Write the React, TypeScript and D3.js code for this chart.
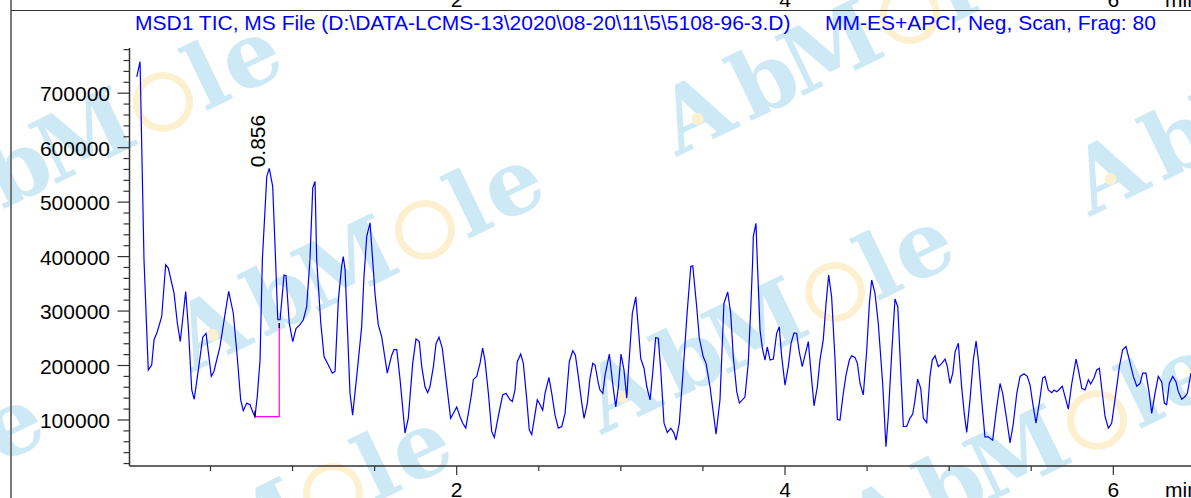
import React from "react";
import * as d3 from "d3";

// ---------------- data ----------------
const TITLE_LEFT = "MSD1 TIC, MS File (D:\\DATA-LCMS-13\\2020\\08-20\\11\\5\\5108-96-3.D)";
const TITLE_RIGHT = "MM-ES+APCI, Neg, Scan, Frag: 80";
const X_UNIT = "min";
const X_TICK_LABELS = [2, 4, 6];
const X_MINOR_STEP = 0.5;
const Y_TICK_LABELS = [100000, 200000, 300000, 400000, 500000, 600000, 700000];
const Y_MINOR_STEP = 20000;
const TOP_PANEL_TICKS = [2, 4, 6];

// retention time (min), TIC intensity
const TIC: [number, number][] = [
  [0.051,730000],[0.071,758000],[0.095,394000],[0.121,192000],[0.142,201000],[0.156,247000],[0.176,262000],[0.203,290000],[0.227,385000],[0.243,379000],
  [0.278,333000],[0.298,278000],[0.316,244000],[0.349,336000],[0.365,271000],[0.386,155000],[0.401,138000],[0.426,192000],[0.453,252000],[0.473,259000],
  [0.505,180000],[0.521,189000],[0.558,235000],[0.588,293000],[0.611,336000],[0.639,296000],[0.663,216000],[0.684,137000],[0.700,117000],[0.721,131000],
  [0.741,128000],[0.757,115000],[0.771,106000],[0.785,143000],[0.802,210000],[0.816,394000],[0.843,547000],[0.858,562000],[0.879,529000],[0.895,406000],
  [0.910,284000],[0.924,284000],[0.948,366000],[0.960,365000],[0.980,278000],[1.001,244000],[1.021,268000],[1.045,275000],[1.066,284000],[1.086,308000],
  [1.106,394000],[1.123,526000],[1.137,538000],[1.147,394000],[1.172,278000],[1.192,216000],[1.218,201000],[1.242,186000],[1.259,189000],[1.279,320000],
  [1.299,382000],[1.309,400000],[1.320,376000],[1.350,149000],[1.366,109000],[1.395,192000],[1.421,271000],[1.435,363000],[1.452,437000],[1.472,462000],
  [1.488,394000],[1.502,333000],[1.522,275000],[1.543,253000],[1.577,186000],[1.604,219000],[1.618,229000],[1.635,229000],[1.655,174000],[1.685,76000],
  [1.705,103000],[1.732,204000],[1.752,249000],[1.772,244000],[1.787,198000],[1.807,161000],[1.823,150000],[1.837,161000],[1.858,198000],[1.874,240000],
  [1.892,252000],[1.912,232000],[1.935,174000],[1.963,103000],[1.979,112000],[2.000,124000],[2.020,106000],[2.037,94000],[2.055,85000],[2.071,112000],
  [2.091,149000],[2.101,174000],[2.122,180000],[2.142,204000],[2.158,232000],[2.172,210000],[2.193,149000],[2.213,79000],[2.229,68000],[2.253,106000],
  [2.280,146000],[2.300,149000],[2.325,137000],[2.339,134000],[2.355,155000],[2.369,207000],[2.390,221000],[2.406,204000],[2.427,137000],[2.442,82000],
  [2.457,73000],[2.473,103000],[2.491,137000],[2.508,128000],[2.524,118000],[2.538,149000],[2.562,178000],[2.579,149000],[2.599,109000],[2.619,85000],
  [2.640,88000],[2.660,112000],[2.686,207000],[2.707,227000],[2.723,219000],[2.741,180000],[2.762,131000],[2.776,103000],[2.796,131000],[2.812,177000],
  [2.829,204000],[2.843,201000],[2.863,167000],[2.873,155000],[2.890,149000],[2.904,183000],[2.930,221000],[2.950,167000],[2.969,124000],[2.985,161000],
  [3.001,221000],[3.019,192000],[3.036,140000],[3.045,186000],[3.070,296000],[3.091,326000],[3.106,271000],[3.121,213000],[3.141,195000],[3.158,161000],
  [3.178,137000],[3.194,186000],[3.212,251000],[3.228,250000],[3.243,192000],[3.263,94000],[3.283,77000],[3.304,85000],[3.324,76000],[3.336,63000],
  [3.356,94000],[3.377,180000],[3.405,302000],[3.426,382000],[3.438,383000],[3.462,308000],[3.478,250000],[3.502,216000],[3.519,204000],[3.543,161000],
  [3.580,74000],[3.604,137000],[3.628,314000],[3.651,335000],[3.669,296000],[3.685,216000],[3.706,152000],[3.722,131000],[3.756,142000],[3.776,204000],
  [3.791,302000],[3.803,394000],[3.807,437000],[3.823,461000],[3.831,394000],[3.848,265000],[3.862,232000],[3.878,210000],[3.892,234000],[3.909,210000],
  [3.929,212000],[3.949,259000],[3.965,271000],[3.980,216000],[4.000,164000],[4.020,198000],[4.037,241000],[4.055,260000],[4.071,259000],[4.087,225000],
  [4.105,198000],[4.122,219000],[4.142,244000],[4.157,192000],[4.177,126000],[4.197,161000],[4.213,210000],[4.233,247000],[4.250,314000],[4.266,366000],
  [4.284,326000],[4.305,210000],[4.319,101000],[4.335,100000],[4.355,149000],[4.372,183000],[4.392,210000],[4.406,218000],[4.426,215000],[4.441,204000],
  [4.457,167000],[4.477,146000],[4.498,229000],[4.514,314000],[4.528,357000],[4.548,333000],[4.568,278000],[4.595,167000],[4.615,51000],[4.629,106000],
  [4.650,223000],[4.670,322000],[4.687,308000],[4.701,216000],[4.721,88000],[4.741,88000],[4.761,103000],[4.778,111000],[4.792,137000],[4.808,175000],
  [4.827,158000],[4.843,103000],[4.863,95000],[4.883,180000],[4.897,210000],[4.914,218000],[4.934,198000],[4.955,204000],[4.975,212000],[4.989,198000],
  [5.005,167000],[5.022,186000],[5.036,225000],[5.056,241000],[5.076,161000],[5.092,112000],[5.107,77000],[5.127,137000],[5.147,210000],[5.164,245000],
  [5.178,210000],[5.198,137000],[5.218,69000],[5.238,69000],[5.265,63000],[5.290,124000],[5.310,167000],[5.326,149000],[5.351,100000],[5.371,58000],
  [5.391,94000],[5.412,149000],[5.432,180000],[5.456,185000],[5.476,180000],[5.493,164000],[5.509,131000],[5.529,94000],[5.549,131000],[5.570,177000],
  [5.584,180000],[5.604,155000],[5.625,150000],[5.639,155000],[5.655,152000],[5.671,156000],[5.689,162000],[5.706,143000],[5.726,120000],[5.747,167000],
  [5.773,212000],[5.791,186000],[5.808,158000],[5.828,155000],[5.848,174000],[5.862,166000],[5.882,177000],[5.899,192000],[5.915,195000],[5.933,149000],
  [5.950,106000],[5.970,85000],[5.990,94000],[6.010,137000],[6.037,198000],[6.057,229000],[6.077,235000],[6.098,210000],[6.122,180000],[6.143,162000],
  [6.163,167000],[6.179,186000],[6.199,186000],[6.219,149000],[6.234,112000],[6.254,149000],[6.274,180000],[6.295,170000],[6.311,131000],[6.325,128000],
  [6.341,167000],[6.362,180000],[6.382,170000],[6.396,152000],[6.417,138000],[6.437,143000],[6.451,149000],[6.473,186000],
];

const PEAK_LABELS = [{ time: 0.856, value: 562000, label: "0.856" }];
const INTEGRATION = { start: 0.771, end: 0.919, baseline: 106000, endValue: 278000 };

// ---------------- layout / style ----------------
const W = 1191;
const H = 498;
const X_DOMAIN: [number, number] = [0.0067, 6.4733];
const Y_DOMAIN: [number, number] = [15500, 783000];
const PLOT_LEFT = 129.5;
const PLOT_BOTTOM = 466;
const PLOT_TOP = 48;
const FONT = "'Liberation Sans', Arial, Helvetica, sans-serif";
const AXIS = "#333";
const WM_BLUE = "#cde9f5";
const WM_YELLOW = "#fdf0cf";
const WM_CENTERS: [number, number][] = [
  [163, 102], [425, 230], [910, 14], [1323, 74], [835, 292], [333, 493], [1097, 420], [-75, 470],
];

function Watermark({ cx, cy }: { cx: number; cy: number }) {
  const letters: [string, number][] = [["A", -237], ["b", -160], ["M", -86], ["l", 50], ["e", 98]];
  return (
    <g transform={`translate(${cx},${cy}) rotate(-25.8)`}>
      {letters.map(([ch, dx]) => (
        <text key={ch} x={dx} y={27} textAnchor="middle" fontFamily="'DejaVu Serif', serif"
          fontWeight="bold" fontSize={90} fill={WM_BLUE}>{ch}</text>
      ))}
      <circle r={26.5} fill="none" stroke={WM_YELLOW} strokeWidth={7} />
      <circle cx={-237} cy={2} r={6} fill={WM_YELLOW} />
    </g>
  );
}

export default function App() {
  const x = d3.scaleLinear().domain(X_DOMAIN).range([PLOT_LEFT, W]);
  const y = d3.scaleLinear().domain(Y_DOMAIN).range([PLOT_BOTTOM, PLOT_TOP]);
  const linePath = d3.line<[number, number]>().x((d) => x(d[0])).y((d) => y(d[1]))(TIC) || "";

  const xMinor = d3.range(X_MINOR_STEP, X_DOMAIN[1], X_MINOR_STEP).filter((t) => !X_TICK_LABELS.includes(t));
  const yMinor = d3.range(Y_MINOR_STEP, Y_DOMAIN[1], Y_MINOR_STEP).filter((v) => !Y_TICK_LABELS.includes(v));

  const ix0 = x(INTEGRATION.start);
  const ix1 = x(INTEGRATION.end);
  const iy0 = y(INTEGRATION.baseline);
  const iy1 = y(INTEGRATION.endValue);

  return (
    <svg width={W} height={H} style={{ position: "absolute", left: 0, top: 0, background: "#fff" }}
      fontFamily={FONT}>
      <rect width={W} height={H} fill="#fff" />
      <defs>
        <clipPath id="plotclip">
          <rect x={PLOT_LEFT} y={0} width={W - PLOT_LEFT} height={PLOT_BOTTOM} />
        </clipPath>
      </defs>
      {WM_CENTERS.map(([cx, cy], i) => <Watermark key={i} cx={cx} cy={cy} />)}

      {/* frame remnants of previous panel */}
      <line x1={11} x2={11} y1={0} y2={H} stroke="#777" strokeWidth={2} />
      <line x1={11} x2={W} y1={10.5} y2={10.5} stroke={AXIS} strokeWidth={1.2} />
      {TOP_PANEL_TICKS.map((t) => (
        <text key={t} x={x(t)} y={6.5} textAnchor="middle" fontSize={21} fill="#000">{t}</text>
      ))}
      <text x={1165} y={6.5} fontSize={21} fill="#000">{X_UNIT}</text>

      {/* title */}
      <text x={135} y={29.5} fontSize={21} fill="#0000ff">{TITLE_LEFT}</text>
      <text x={825} y={29.5} fontSize={21} fill="#0000ff">{TITLE_RIGHT}</text>

      {/* data */}
      <path d={linePath} fill="none" stroke="#0000ff" strokeWidth={1.2} clipPath="url(#plotclip)" />
      <path d={`M${ix0},${iy0}H${ix1}V${iy1}`} fill="none" stroke="#ff00ff" strokeWidth={1.2} />
      <line x1={ix0} x2={ix0} y1={iy0} y2={iy0 - 6} stroke="#000" strokeWidth={1.2} />
      <line x1={ix1} x2={ix1} y1={iy1} y2={iy1 + 5} stroke="#000" strokeWidth={1.2} />
      {PEAK_LABELS.map((p) => (
        <text key={p.label} transform={`translate(${x(p.time) - 4},${y(p.value) - 1}) rotate(-90)`}
          fontSize={21} fill="#000">{p.label}</text>
      ))}

      {/* y axis */}
      <line x1={PLOT_LEFT} x2={PLOT_LEFT} y1={PLOT_TOP} y2={PLOT_BOTTOM} stroke={AXIS} strokeWidth={1.5} />
      {yMinor.map((v) => (
        <line key={v} x1={PLOT_LEFT - 6} x2={PLOT_LEFT} y1={y(v)} y2={y(v)} stroke={AXIS} strokeWidth={1.2} />
      ))}
      {Y_TICK_LABELS.map((v) => (
        <g key={v}>
          <line x1={PLOT_LEFT - 12} x2={PLOT_LEFT} y1={y(v)} y2={y(v)} stroke={AXIS} strokeWidth={1.2} />
          <text x={110} y={y(v) + 8} textAnchor="end" fontSize={21} fill="#000">{v}</text>
        </g>
      ))}

      {/* x axis */}
      <line x1={PLOT_LEFT} x2={W} y1={PLOT_BOTTOM} y2={PLOT_BOTTOM} stroke={AXIS} strokeWidth={1.5} />
      {xMinor.map((t) => (
        <line key={t} x1={x(t)} x2={x(t)} y1={PLOT_BOTTOM} y2={PLOT_BOTTOM + 5} stroke={AXIS} strokeWidth={1.2} />
      ))}
      {X_TICK_LABELS.map((t) => (
        <g key={t}>
          <line x1={x(t)} x2={x(t)} y1={PLOT_BOTTOM} y2={PLOT_BOTTOM + 9} stroke={AXIS} strokeWidth={1.2} />
          <text x={x(t)} y={497} textAnchor="middle" fontSize={21} fill="#000">{t}</text>
        </g>
      ))}
      <text x={1165} y={497} fontSize={21} fill="#000">{X_UNIT}</text>
    </svg>
  );
}
